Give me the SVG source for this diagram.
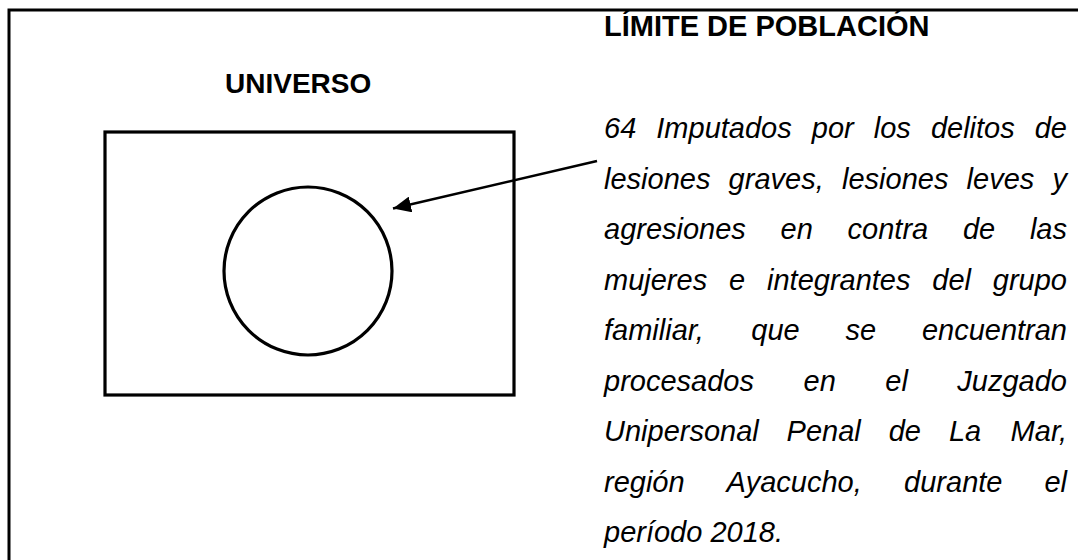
<svg xmlns="http://www.w3.org/2000/svg" width="1078" height="560" viewBox="0 0 1078 560">
<style>
.frame{fill:none;stroke:#000;stroke-width:3}
.shape{fill:none;stroke:#000;stroke-width:3.2}
.title{font-family:"Liberation Sans",Arial,sans-serif;font-weight:bold;fill:#000}
.body{font-family:"Liberation Sans",Arial,sans-serif;font-style:italic;font-size:29px;fill:#000}
.conn{stroke:#000;stroke-width:2.5;fill:none}
</style>
<defs>
<marker id="arrow" markerUnits="userSpaceOnUse" markerWidth="20" markerHeight="16" refX="18" refY="8" orient="auto">
<path d="M0,0 L18,8 L0,16 Z" fill="#000"/>
</marker>
</defs>
<rect width="1078" height="560" fill="#fff"/>
<g id="frame">
<path class="frame" d="M9,560 L9,10 L1078,10"/>
</g>
<g id="universo">
<text class="title" x="225" y="93" font-size="28">UNIVERSO</text>
<rect class="shape" x="105" y="132" width="409" height="263"/>
</g>
<g id="poblacion">
<circle class="shape" cx="308" cy="271" r="84"/>
</g>
<g id="limite">
<text class="title" x="604" y="36" font-size="29">LÍMITE DE POBLACIÓN</text>
<text class="body" y="138"><tspan x="604">64</tspan><tspan x="656.3">Imputados</tspan><tspan x="811.8">por</tspan><tspan x="873.8">los</tspan><tspan x="930.9">delitos</tspan><tspan x="1067" text-anchor="end">de</tspan></text>
<text class="body" y="188.5"><tspan x="604">lesiones</tspan><tspan x="728.6">graves,</tspan><tspan x="842">lesiones</tspan><tspan x="966.6">leves</tspan><tspan x="1067" text-anchor="end">y</tspan></text>
<text class="body" y="239"><tspan x="604">agresiones</tspan><tspan x="780.6">en</tspan><tspan x="847.6">contra</tspan><tspan x="962.9">de</tspan><tspan x="1067" text-anchor="end">las</tspan></text>
<text class="body" y="289.5"><tspan x="604">mujeres</tspan><tspan x="729">e</tspan><tspan x="767">integrantes</tspan><tspan x="932.3">del</tspan><tspan x="1067" text-anchor="end">grupo</tspan></text>
<text class="body" y="340"><tspan x="604">familiar,</tspan><tspan x="751.3">que</tspan><tspan x="845.5">se</tspan><tspan x="1067" text-anchor="end">encuentran</tspan></text>
<text class="body" y="390.5"><tspan x="604">procesados</tspan><tspan x="803.5">en</tspan><tspan x="885.3">el</tspan><tspan x="1067" text-anchor="end">Juzgado</tspan></text>
<text class="body" y="441"><tspan x="604">Unipersonal</tspan><tspan x="786.6">Penal</tspan><tspan x="888.7">de</tspan><tspan x="948.9">La</tspan><tspan x="1067" text-anchor="end">Mar,</tspan></text>
<text class="body" y="491.5"><tspan x="604">región</tspan><tspan x="726.6">Ayacucho,</tspan><tspan x="904.1">durante</tspan><tspan x="1067" text-anchor="end">el</tspan></text>
<text class="body" x="604" y="542">período 2018.</text>
</g>
<g id="connectors">
<line class="conn" x1="597" y1="161" x2="393" y2="208.5" marker-end="url(#arrow)"/>
</g>
</svg>
